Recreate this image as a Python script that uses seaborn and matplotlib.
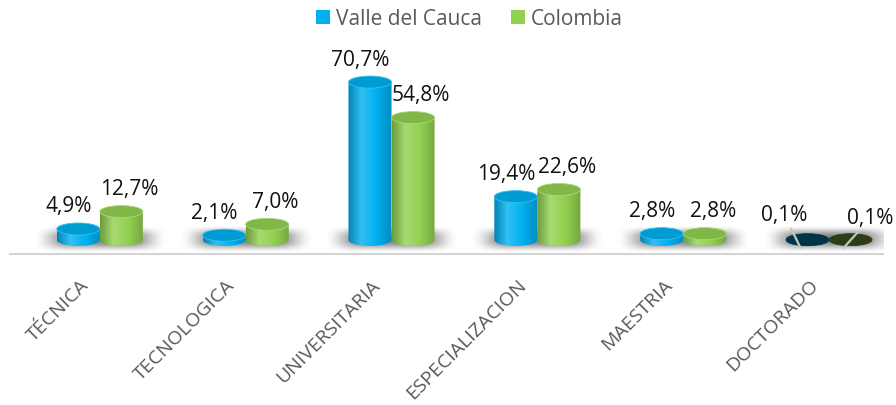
import numpy as np
import pandas as pd
import matplotlib
matplotlib.use("Agg")
import matplotlib.pyplot as plt
import seaborn as sns
from matplotlib.patches import Ellipse, PathPatch, Patch
from matplotlib.path import Path
from matplotlib.colors import LinearSegmentedColormap, to_rgb
from matplotlib.transforms import ScaledTranslation

# datos del grafico
niveles = ["TÉCNICA", "TECNOLOGICA", "UNIVERSITARIA", "ESPECIALIZACION", "MAESTRIA", "DOCTORADO"]
series = ["Valle del Cauca", "Colombia"]
valle = [4.9, 2.1, 70.7, 19.4, 2.8, 0.1]
colombia = [12.7, 7.0, 54.8, 22.6, 2.8, 0.1]

colores = {"Valle del Cauca": "#00B0F0", "Colombia": "#92D050"}

df = pd.DataFrame({
    "nivel": niveles * 2,
    "serie": [series[0]] * len(niveles) + [series[1]] * len(niveles),
    "pct": valle + colombia,
})


def shade(c, f):
    r = np.array(to_rgb(c))
    if f < 1:
        return tuple(r * f)
    return tuple(r + (1 - r) * (f - 1))


def smooth(u, a, b):
    # 0 fuera de a, 1 dentro de b, transicion suave
    t = np.clip((a - np.abs(u)) / (a - b), 0, 1)
    return t * t * (3 - 2 * t)


def cylinder(ax, x0, w, h, base, ry, z):
    xc = x0 + w / 2
    t = np.linspace(np.pi, 2 * np.pi, 50)
    bottom = np.column_stack([xc + w / 2 * np.cos(t), ry * np.sin(t)])
    verts = np.vstack([[x0, h], bottom, [x0 + w, h], [x0, h]])
    clip = PathPatch(Path(verts), fc="none", ec="none", transform=ax.transData)
    cmap = LinearSegmentedColormap.from_list(
        "cyl", [(0, shade(base, 0.75)), (0.3, shade(base, 1.2)), (0.65, base), (1, shade(base, 0.8))])
    grad = np.linspace(0, 1, 64).reshape(1, -1)
    im = ax.imshow(grad, extent=[x0, x0 + w, -ry, h], cmap=cmap, aspect="auto",
                   origin="lower", zorder=z, interpolation="bilinear")
    im.set_clip_path(clip)
    cap = shade(base, 0.88) if h >= 0.5 else shade(base, 0.3)
    ax.add_patch(Ellipse((xc, h), w, 2 * ry, fc=cap, ec=shade(base, 1.2) if h >= 0.5 else cap,
                         lw=0.6, zorder=z + 0.5))


sns.set_theme(style="white")
plt.rcParams["font.family"] = ["Open Sans", "DejaVu Sans"]

fig = plt.figure(figsize=(8.96, 4.06), dpi=100)
ax = fig.add_axes([10 / 896, 151 / 406, 873 / 896, 215 / 406])

sns.barplot(data=df, x="nivel", y="pct", hue="serie", palette=colores,
            width=0.59, errorbar=None, legend=False, ax=ax)

xlim = (-0.616, 5.37)
ylim = (-6.3, 90)
ax.set_xlim(xlim)
ax.set_ylim(ylim)

px_y = ax.bbox.height / (ylim[1] - ylim[0])
px_x = ax.bbox.width / (xlim[1] - xlim[0])
ry = 6 / px_y

# sombra difusa debajo de cada grupo
gx = np.linspace(-0.46, 0.46, 120)
gy = np.linspace(-13 / px_y, 15 / px_y, 60)
GX, GY = np.meshgrid(gx, gy)
alpha = smooth(GX, 0.46, 0.2) * smooth(GY - 1 / px_y, 14 / px_y, 2 / px_y) * 0.62
sombra = np.zeros(GX.shape + (4,))
sombra[..., :3] = 0.25
sombra[..., 3] = alpha
for i in range(len(niveles)):
    ax.imshow(sombra, extent=[i - 0.46, i + 0.46, gy[0], gy[-1]], origin="lower",
              aspect="auto", zorder=1, interpolation="bilinear")

bars = list(ax.patches)
for p in bars:
    x0, w, h = p.get_x(), p.get_width(), p.get_height()
    if w <= 0:
        continue
    p.set_visible(False)
    xc = x0 + w / 2
    primera = xc < round(xc)
    base = colores[series[0]] if primera else colores[series[1]]
    cylinder(ax, x0, w, h, base, ry, 3 if primera else 4)

    txt = f"{h:.1f}%".replace(".", ",")
    if h < 0.5:
        off = (-16, 33) if primera else (27, 30)
        ax.annotate(txt, xy=(xc - 7 / px_x, -8 / px_y), xytext=off, textcoords="offset pixels",
                    ha="center", va="center", fontsize=15, color="#111111", zorder=6,
                    arrowprops=dict(arrowstyle="-", color="#C4C4C4", lw=1.6,
                                    shrinkA=0, shrinkB=0))
    else:
        dx = -10 if primera else 8
        ax.annotate(txt, xy=(xc, h), xytext=(dx, 23), textcoords="offset pixels",
                    ha="center", va="center", fontsize=15, color="#111111", zorder=6)

ax.set_xlim(xlim)
ax.set_ylim(ylim)

ax.set_xlabel("")
ax.set_ylabel("")
ax.set_yticks([])
for s in ["top", "left", "right"]:
    ax.spines[s].set_visible(False)
ax.spines["bottom"].set_color("#D4D4D4")
ax.spines["bottom"].set_linewidth(1.5)
ax.tick_params(axis="x", length=0, pad=20, labelsize=14, labelcolor="#595959")
plt.setp(ax.get_xticklabels(), rotation=45, ha="right", va="center", rotation_mode="anchor")
for lbl in ax.get_xticklabels():
    lbl.set_transform(lbl.get_transform() + ScaledTranslation(-10 / 72, 0, fig.dpi_scale_trans))

handles = [Patch(fc=colores[s], ec="none") for s in series]
fig.legend(handles, series, loc="center", bbox_to_anchor=(0.524, 0.951), ncol=2,
           frameon=False, fontsize=15, labelcolor="#595959", handlelength=0.65,
           handleheight=0.65, handletextpad=0.3, columnspacing=1.4)

fig.savefig("out.png", dpi=100, facecolor="white")
